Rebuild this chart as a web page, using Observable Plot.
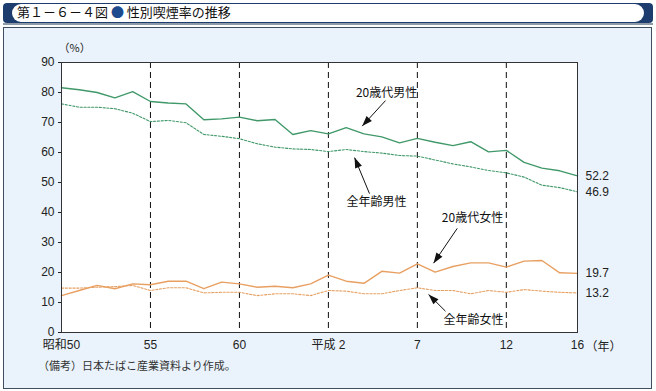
<!DOCTYPE html>
<html><head><meta charset="utf-8">
<script src="https://cdn.jsdelivr.net/npm/d3@7"></script>
<script src="https://cdn.jsdelivr.net/npm/@observablehq/plot@0.6"></script>
<style>
html,body{margin:0;padding:0;background:#fff;}
#wrap{position:relative;width:656px;height:391px;overflow:hidden;font-family:"Noto Sans CJK JP",sans-serif;}
#bar{position:absolute;left:3px;top:3px;width:650px;height:20px;background:#1c3d6e;border-radius:4px;}
#pill{position:absolute;left:9px;top:1px;width:632px;height:18px;background:#fff;border-radius:10px;}
#title{position:absolute;left:17px;top:3px;height:18px;line-height:18px;font-size:13px;color:#111;white-space:nowrap;}
#title .dot{color:#1c4a8c;}
#line{position:absolute;left:3px;top:23px;width:650px;height:2px;background:#8e9aa6;}
#panel{position:absolute;left:3px;top:27px;width:647px;height:360px;background:#eaf3fb;border:1.5px solid #3f4f60;}
#chart{position:absolute;left:0;top:0;}
#note{position:absolute;left:38px;top:357px;font-size:11px;color:#333;white-space:nowrap;}
</style></head>
<body>
<div id="wrap">
  <div id="bar"><div id="pill"></div></div>
  <div id="title">第１－６－４図 <span class="dot">●</span> 性別喫煙率の推移</div>
  <div id="line"></div>
  <div id="panel"></div>
  <div id="chart"></div>
  <div id="note">（備考）日本たばこ産業資料より作成。</div>
</div>
<script>
const years = d3.range(1975, 2005);
const male20 = [81.6,80.9,80.0,78.2,80.3,77.0,76.5,76.2,70.9,71.2,71.8,70.6,71.0,66.0,67.3,66.2,68.3,66.2,65.2,63.2,64.7,63.4,62.3,63.6,60.2,60.7,56.7,54.8,53.9,52.2];
const maleAll = [76.2,75.1,75.1,74.6,73.1,70.3,70.7,69.9,66.0,65.4,64.6,62.9,61.8,61.2,61.0,60.3,61.0,60.3,59.8,59.0,58.8,57.5,56.2,55.2,54.0,53.2,51.8,49.1,48.3,46.9];
const female20 = [12.3,14.0,15.7,14.6,16.2,15.9,17.1,17.1,14.6,16.8,16.2,15.1,15.4,14.9,16.2,19.1,17.1,16.4,20.4,19.8,22.9,20.1,22.0,23.2,23.2,21.8,23.8,24.0,19.9,19.7];
const femaleAll = [14.8,14.8,15.1,15.3,15.7,14.0,14.9,14.9,13.2,13.4,13.4,12.3,12.9,12.9,12.3,14.0,13.8,12.9,12.9,14.0,14.9,14.0,14.0,12.9,14.0,13.4,14.3,13.8,13.4,13.2];

const xTicks = [1975,1980,1985,1990,1995,2000,2004];
const xTickLabels = ["昭和50","55","60","平成 2","7","12","16"];
const yTicks = [0,10,20,30,40,50,60,70,80,90];
const dividers = [1980,1985,1990,1995,2000];

const seriesNames = ["20歳代男性","全年齢男性","20歳代女性","全年齢女性"];
const seriesValues = [male20, maleAll, female20, femaleAll];
const seriesColors = ["#41996a","#41996a","#e8a062","#e8a062"];
const seriesDash = [null,"2.2,1.6",null,"2.2,1.6"];

// annotation labels and arrows (data units)
const annoText = [
  {name:"20歳代男性", x:1993.27, y:79.7},
  {name:"全年齢男性", x:1992.70, y:43.3},
  {name:"20歳代女性", x:1998.10, y:38.0},
  {name:"全年齢女性", x:1998.15, y:4.0}
];
const annoArrows = [
  {x1:1993.21, y1:77.3, x2:1991.90, y2:68.8},
  {x1:1992.31, y1:46.3, x2:1991.47, y2:58.3},
  {x1:1997.24, y1:34.7, x2:1995.91, y2:23.1},
  {x1:1996.58, y1:7.1, x2:1995.63, y2:12.7}
];

const rows = seriesNames.map((s, i) => years.map((yr, j) => ({series: s, year: yr, value: seriesValues[i][j]})));
const endLabels = seriesNames.map((s, i) => ({series: s, year: 2004, value: seriesValues[i][seriesValues[i].length - 1]}));

const lineMarks = rows.map((r, i) => Plot.line(r, {
  x: "year", y: "value", stroke: seriesColors[i],
  strokeWidth: seriesDash[i] ? 1.1 : 1.4,
  strokeDasharray: seriesDash[i] || undefined
}));

const jp = "'Noto Sans CJK JP', sans-serif";

const chart = Plot.plot({
  width: 656, height: 391,
  marginLeft: 61, marginRight: 79, marginTop: 62, marginBottom: 59,
  style: {background: "transparent", fontFamily: "'Liberation Sans', 'Noto Sans CJK JP', sans-serif", fontSize: "12px", color: "#222"},
  x: {domain: [1975, 2004], ticks: xTicks, tickFormat: d => xTickLabels[xTicks.indexOf(d)], tickSize: 0, tickPadding: 8, label: null},
  y: {domain: [0, 90], ticks: yTicks, tickSize: 3, tickPadding: 4, label: null},
  marks: [
    Plot.frame({fill: "white"}),
    Plot.ruleX(dividers, {stroke: "#111", strokeWidth: 1, strokeDasharray: "6,4"}),
    ...lineMarks,
    Plot.frame({stroke: "#333", strokeWidth: 1}),
    Plot.text(["（%）"], {x: 1975, y: 90, dy: -14, dx: -3, textAnchor: "start", fontFamily: jp, fontSize: 11, fill: "#222"}),
    Plot.text(["（年）"], {x: 2004, y: 0, dy: 15, dx: 8, textAnchor: "start", fontFamily: jp, fontSize: 12, fill: "#222"}),
    Plot.text(endLabels, {x: "year", y: "value", text: d => d.value.toFixed(1), dx: 8, textAnchor: "start", fontSize: 12, fill: "#222"}),
    Plot.text(annoText, {x: "x", y: "y", text: "name", fontFamily: jp, fontSize: 12, fill: "#111"}),
    Plot.link(annoArrows, {x1: "x1", y1: "y1", x2: "x2", y2: "y2", stroke: "#111", strokeWidth: 1, markerEnd: "arrow"})
  ]
});

// make arrow heads filled triangles
d3.select(chart).selectAll("marker").each(function() {
  const m = d3.select(this);
  m.attr("viewBox", "-10 -5 10 10").attr("markerWidth", 13).attr("markerHeight", 13)
   .attr("refX", 0).attr("refY", 0)
   .attr("fill", "#111").attr("stroke", "none");
  m.selectAll("*").remove();
  m.append("path").attr("d", "M-8,-2.8L0,0L-8,2.8Z");
});

document.getElementById("chart").appendChild(chart);
</script>
</body></html>
